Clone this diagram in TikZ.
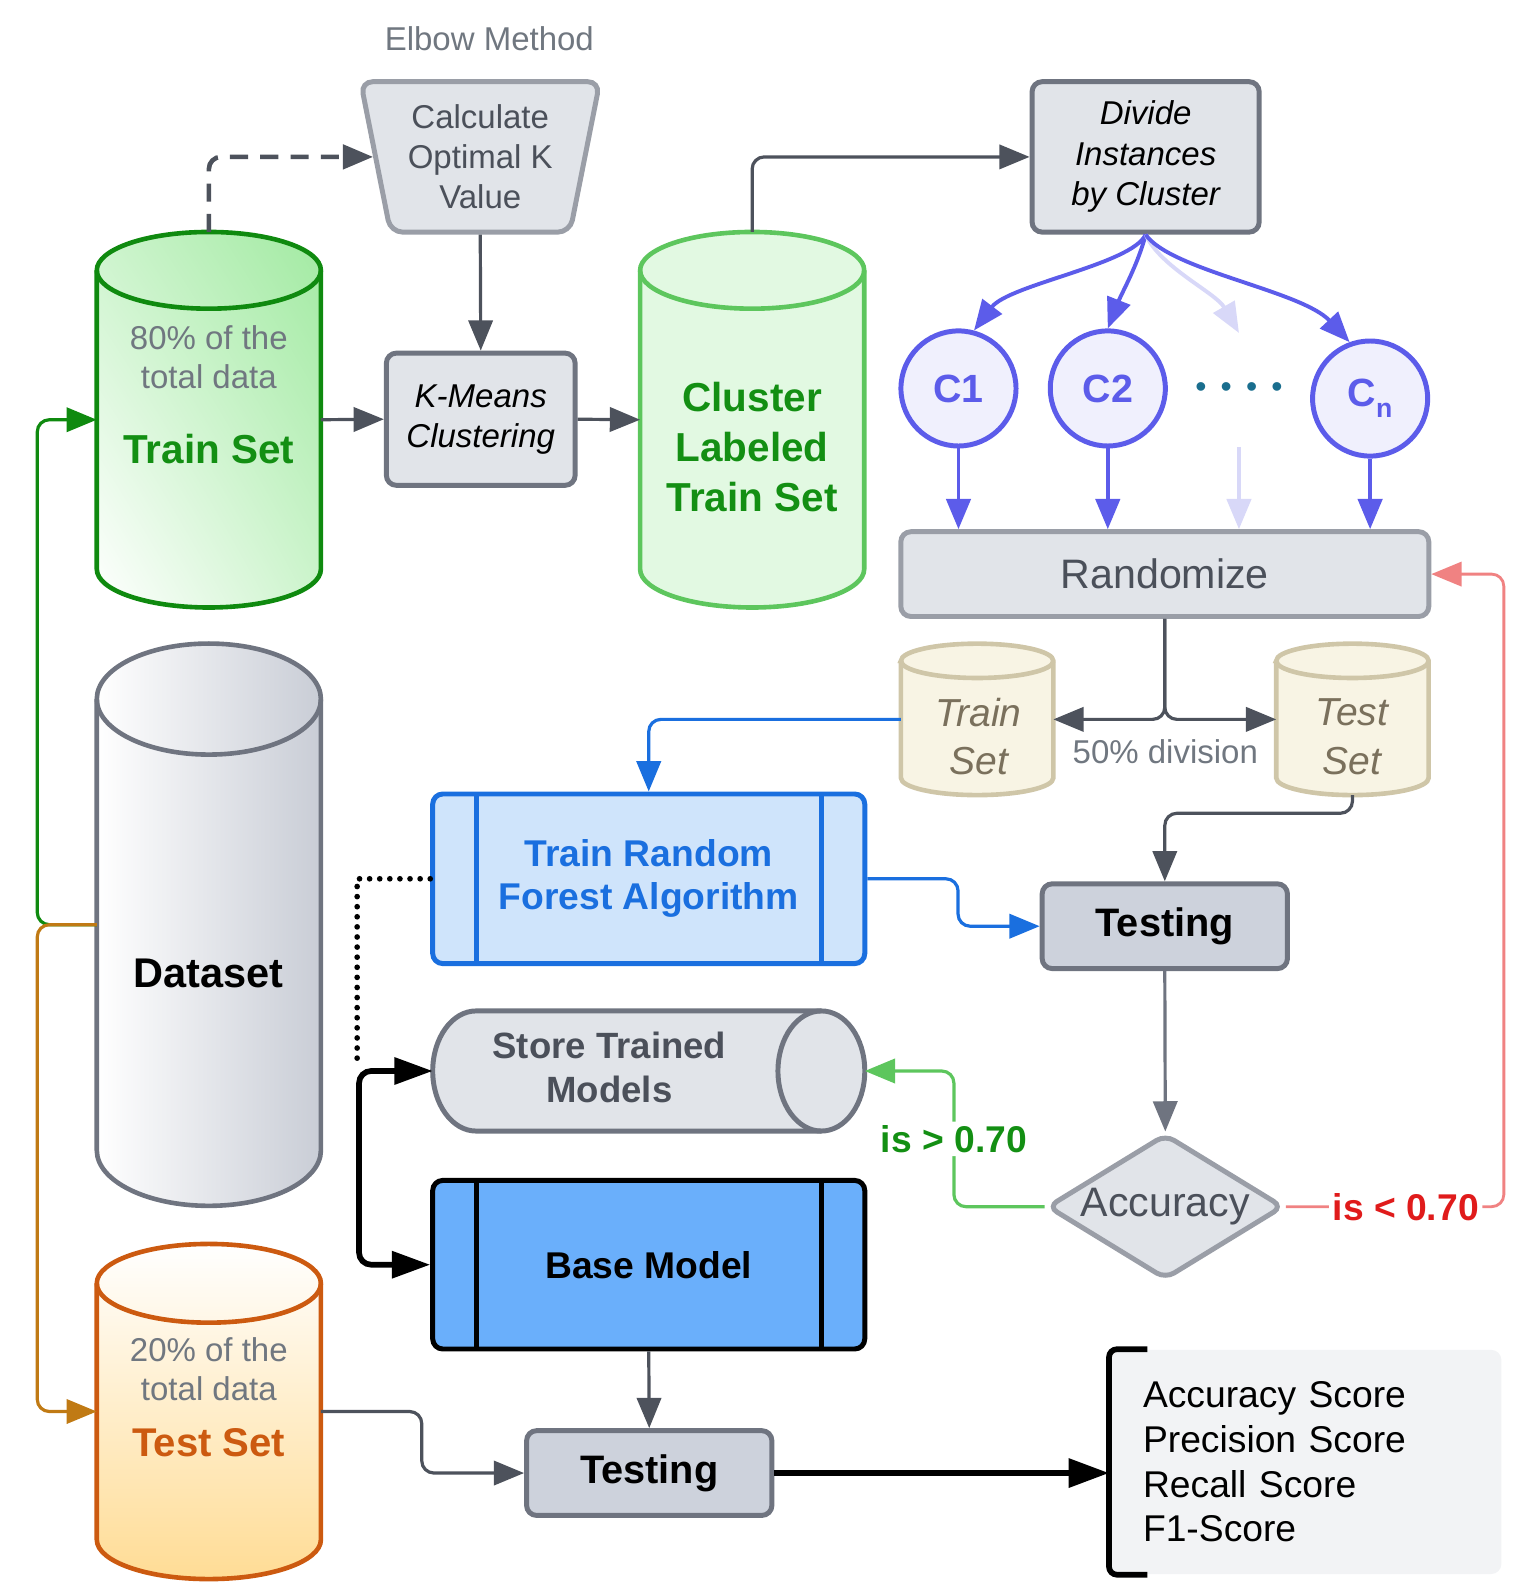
\documentclass[tikz,border=0pt]{standalone}
\usepackage{fontspec}
\setmainfont{Liberation Sans}
\usetikzlibrary{shapes.geometric,arrows.meta,shadings}

\definecolor{boxfill}{HTML}{E1E4E9}
\definecolor{boxedge}{HTML}{6F7480}
\definecolor{boxedgel}{HTML}{9A9EA7}
\definecolor{testfill}{HTML}{CDD2DC}
\definecolor{linegray}{HTML}{4D525C}
\definecolor{txtgray}{HTML}{4B505A}
\definecolor{notegray}{HTML}{707780}
\definecolor{grndark}{HTML}{0F8A0F}
\definecolor{grntxt}{HTML}{138F13}
\definecolor{grnlight}{HTML}{5DC65D}
\definecolor{grnfill}{HTML}{E2F9E2}
\definecolor{grnA}{HTML}{A2EAA2}
\definecolor{grnB}{HTML}{CDF4CD}
\definecolor{orgedge}{HTML}{CC5A10}
\definecolor{orgline}{HTML}{C07A14}
\definecolor{orgfill}{HTML}{FFDC95}
\definecolor{purp}{HTML}{5C5CEA}
\definecolor{purpfill}{HTML}{F0F0FD}
\definecolor{purpfaint}{HTML}{D8D8F8}
\definecolor{dotteal}{HTML}{1A6E8E}
\definecolor{beigefill}{HTML}{F8F4E4}
\definecolor{beigeedge}{HTML}{CFC6A8}
\definecolor{beigetxt}{HTML}{7A705C}
\definecolor{blueedge}{HTML}{1A6FDF}
\definecolor{bluefill}{HTML}{CFE4FB}
\definecolor{bluedeep}{HTML}{6AAFFB}
\definecolor{redline}{HTML}{F08282}
\definecolor{redtxt}{HTML}{E01B1B}
\definecolor{metfill}{HTML}{F2F3F5}
\definecolor{dsgray}{HTML}{C9CDD6}

\newcommand\fs[2]{\fontsize{#1}{#2}\selectfont}
% upright drum around node #1: half width #2, end radius #3, outline #4, filling #5
\newcommand\drum[5]{%
  \path[#5, #4] ([yshift=-#3]#1.north west) -- ([yshift=#3]#1.south west)
    arc[start angle=180, end angle=360, x radius=#2, y radius=#3]
    -- ([yshift=-#3]#1.north east)
    arc[start angle=0, end angle=180, x radius=#2, y radius=#3] -- cycle;
  \path[#4] ([yshift=-#3]#1.north west)
    arc[start angle=180, end angle=360, x radius=#2, y radius=#3];}
% lying drum around node #1: end radius #2, half height #3, outline #4, filling #5
\newcommand\hdrum[5]{%
  \path[#5, #4] ([xshift=#2]#1.north west)
    arc[start angle=90, end angle=270, x radius=#2, y radius=#3]
    -- ([xshift=-#2]#1.south east)
    arc[start angle=270, end angle=450, x radius=#2, y radius=#3] -- cycle;
  \path[#4] ([xshift=-#2]#1.north east)
    arc[start angle=90, end angle=270, x radius=#2, y radius=#3];}

\tikzset{
  note/.style={text=notegray, font=\fs{9.3}{11.2}, align=center, inner sep=0pt},
  graybox/.style={rectangle, rounded corners=0.1cm, draw=boxedge, fill=boxfill,
    line width=1.4pt, align=center, inner sep=0pt},
  testbox/.style={graybox, fill=testfill, font=\bfseries\fs{11.2}{13},
    minimum width=2.43cm, minimum height=0.84cm},
  slot/.style={rectangle, inner sep=0pt, outer sep=0pt},
  proc/.style={rectangle, rounded corners=0.1cm, draw=#1, line width=1.4pt,
    minimum width=4.28cm, align=center, inner sep=0pt,
    path picture={\draw[#1, line width=1.4pt]
      ([xshift=0.43cm]path picture bounding box.north west) -- ([xshift=0.43cm]path picture bounding box.south west)
      ([xshift=-0.43cm]path picture bounding box.north east) -- ([xshift=-0.43cm]path picture bounding box.south east);}},
  clu/.style={circle, draw=purp, fill=purpfill, line width=1.4pt, minimum size=1.14cm,
    inner sep=0pt, text=purp, font=\bfseries\fs{11.1}{13}},
  conn/.style={draw=linegray, line width=0.9pt, rounded corners=0.12cm,
    -{Triangle[length=0.3cm,width=0.24cm]}},
  purparr/.style={conn, draw=purp, line width=1.1pt},
  cond/.style={fill=white, inner sep=1pt, font=\bfseries\fs{10.5}{12}},
}

\begin{document}
\begin{tikzpicture}[x=0.01cm, y=-0.01cm]
\useasboundingbox (0,0) rectangle (1518,1568);

% clustering stage
\node[note] (elbow) at (485,38) {Elbow Method};
\node[trapezium, trapezium stretches=true, shape border rotate=180,
  trapezium left angle=77, trapezium right angle=77,
  minimum width=2.38cm, minimum height=1.49cm, rounded corners=0.12cm,
  draw=boxedgel, fill=boxfill, line width=1.4pt, inner sep=0pt,
  text=txtgray, font=\fs{9.3}{11.3}, align=center] (optk) at (476,155.5) {Calculate\\Optimal K\\Value};
\node[graybox, minimum width=1.87cm, minimum height=1.31cm, font=\itshape\fs{9.3}{11.2}] (kmeans) at (476.5,415.5) {K-Means\\Clustering};
\node[graybox, minimum width=2.25cm, minimum height=1.49cm, font=\itshape\fs{9.3}{11.4}] (divide) at (1135.5,155.5) {Divide\\Instances\\by Cluster};

% data stores
\node[slot, minimum width=2.22cm, minimum height=3.72cm] (trainset) at (207,416) {};
\drum{trainset}{1.11cm}{0.38cm}{draw=grndark, line width=1.3pt}{lower left=white, upper right=grnA, upper left=grnB, lower right=grnB}
\node[note] (trainnote) at (207,354) {80\% of the\\total data};
\node[text=grntxt, font=\bfseries\fs{11.4}{14}] (trainname) at (207,445) {Train Set};

\node[slot, minimum width=2.22cm, minimum height=3.72cm] (labeled) at (745.5,416) {};
\drum{labeled}{1.11cm}{0.38cm}{draw=grnlight, line width=1.3pt}{fill=grnfill}
\node[text=grntxt, font=\bfseries\fs{11.4}{14.1}, align=center] (labeledname) at (745.5,443) {Cluster\\Labeled\\Train Set};

\node[slot, minimum width=2.22cm, minimum height=5.57cm] (dataset) at (207,916.5) {};
\drum{dataset}{1.11cm}{0.55cm}{draw=boxedge, line width=1.3pt}{left color=white, right color=dsgray}
\node[font=\bfseries\fs{11.7}{14}] (dataname) at (207,965) {Dataset};

\node[slot, minimum width=2.22cm, minimum height=3.32cm] (testset) at (207,1399) {};
\drum{testset}{1.11cm}{0.39cm}{draw=orgedge, line width=1.3pt}{top color=white, bottom color=orgfill}
\node[note] (testnote) at (207,1357) {20\% of the\\total data};
\node[text=orgedge, font=\bfseries\fs{11.3}{14}] (testname) at (207,1430) {Test Set};

% clusters
\node[clu] (c1) at (950,385) {C1};
\node[clu] (c2) at (1098,385) {C2};
\node[clu] (cn) at (1358,395) {C\raisebox{-0.28em}{\fs{7.5}{8}n}};
\node[text=dotteal, font=\fs{9}{10}] (dots) at (1228,387) {•\hskip0.14cm•\hskip0.14cm•\hskip0.14cm•};
\coordinate (fa) at (1228,330);
\coordinate (fb) at (1228,443);

\node[graybox, draw=boxedgel, minimum width=5.23cm, minimum height=0.84cm, text=txtgray, font=\fs{11.6}{14}] (rnd) at (1154.5,569) {Randomize};

\node[slot, minimum width=1.51cm, minimum height=1.50cm] (smtrain) at (968.5,713) {};
\drum{smtrain}{0.755cm}{0.17cm}{draw=beigeedge, line width=1.3pt}{fill=beigefill}
\node[text=beigetxt, font=\itshape\fs{11}{13.7}, align=center] (smtrainname) at (970,730) {Train\\Set};
\node[slot, minimum width=1.51cm, minimum height=1.50cm] (smtest) at (1340.5,713) {};
\drum{smtest}{0.755cm}{0.17cm}{draw=beigeedge, line width=1.3pt}{fill=beigefill}
\node[text=beigetxt, font=\itshape\fs{11}{13.7}, align=center] (smtestname) at (1340,730) {Test\\Set};
\node[note] (split) at (1155,745) {50\% division};

% model stage
\node[proc=blueedge, fill=bluefill, minimum height=1.68cm, text=blueedge, font=\bfseries\fs{10.5}{12.2}] (trf) at (643,871) {Train Random\\Forest Algorithm};
\node[testbox] (test1) at (1154.5,918) {Testing};
\node[diamond, aspect=1.6, minimum width=2.34cm, minimum height=1.44cm, inner sep=0pt,
  draw=boxedgel, fill=boxfill, line width=1.4pt, rounded corners=0.1cm,
  text=txtgray, font=\fs{11.6}{14}] (acc) at (1155,1196) {Accuracy};
\node[slot, minimum width=4.28cm, minimum height=1.19cm] (store) at (643,1061.5) {};
\hdrum{store}{0.43cm}{0.595cm}{draw=boxedge, line width=1.4pt}{fill=boxfill}
\node[text=txtgray, font=\bfseries\fs{10.3}{12.5}, align=center] (storename) at (604,1058) {Store Trained\\Models};
\node[proc=black, fill=bluedeep, minimum height=1.67cm, font=\bfseries\fs{10.5}{12.5}] (bm) at (643,1253.5) {Base Model};
\node[testbox] (test2) at (643.5,1460) {Testing};
\node[rectangle, rounded corners=0.1cm, fill=metfill, minimum width=3.88cm, minimum height=2.22cm,
  text width=3.22cm, inner xsep=0.33cm, align=left, font=\fs{10.5}{12.6}] (met) at (1294,1449)
  {Accuracy Score\\Precision Score\\Recall Score\\F1-Score};
\coordinate (dotend) at (354,1052);

% connectors
\draw[conn, line width=1.3pt, dash pattern=on 0.18cm off 0.12cm] (trainset.north) |- (optk.west);
\draw[conn] (optk.south) -- (kmeans.north);
\draw[conn] (trainset.east) -- (kmeans.west);
\draw[conn] (kmeans.east) -- (labeled.west);
\draw[conn] (labeled.north) |- (divide.west);
\draw[purparr] (divide.south) .. controls (1122,262) and (1000,282) .. (c1.75);
\draw[purparr] (divide.south) .. controls (1128,262) and (1112,290) .. (c2.north);
\draw[purparr, draw=purpfaint] (divide.south) .. controls (1150,265) and (1205,290) .. (fa);
\draw[purparr] (divide.south) .. controls (1160,268) and (1290,288) .. (cn.110);
\draw[purparr] (c1.south) -- (c1.south |- rnd.north);
\draw[purparr] (c2.south) -- (c2.south |- rnd.north);
\draw[purparr, draw=purpfaint] (fb) -- (fb |- rnd.north);
\draw[purparr] (cn.south) -- (cn.south |- rnd.north);
\draw[conn] (rnd.south) |- (smtrain.east);
\draw[conn] (rnd.south) |- (smtest.west);
\draw[conn, draw=blueedge] (smtrain.west) -| (trf.north);
\draw[conn, draw=blueedge] (trf.east) -- ++(90,0) |- (test1.west);
\draw[conn] (smtest.south) -- ++(0,18) -| (test1.north);
\draw[conn, draw=boxedge] (test1.south) -- (acc.north);
\draw[conn, draw=grnlight] (acc.west) -- ++(-90,0) |- node[cond, pos=0.25, text=grntxt] {is > 0.70} (store.east);
\draw[conn, draw=redline, line width=0.8pt] (acc.east) -- node[cond, pos=0.55, text=redtxt] {is < 0.70} ++(216,0) |- (rnd.east);
\draw[line width=1.6pt, line cap=round, dash pattern=on 0pt off 0.1cm] (trf.west) -| (dotend);
\draw[line width=1.6pt, rounded corners=0.12cm, {Triangle[length=0.38cm,width=0.26cm]}-{Triangle[length=0.38cm,width=0.26cm]}] (store.west) -- ++(-73,0) |- (bm.west);
\draw[conn] (bm.south) -- (test2.north);
\draw[conn] (testset.east) -- ++(100,0) |- (test2.west);
\draw[line width=1.6pt, -{Triangle[length=0.4cm,width=0.28cm]}] (test2.east) -- (test2.east -| met.west);
\draw[line width=1.6pt, rounded corners=0.08cm] ([xshift=0.38cm]met.north west) -- (met.north west) -- (met.south west) -- ([xshift=0.38cm]met.south west);
\draw[conn, draw=grndark] (dataset.west) -- ++(-59,0) |- (trainset.west);
\draw[conn, draw=orgline] (dataset.west) -- ++(-59,0) |- (testset.west);
\end{tikzpicture}
\end{document}
